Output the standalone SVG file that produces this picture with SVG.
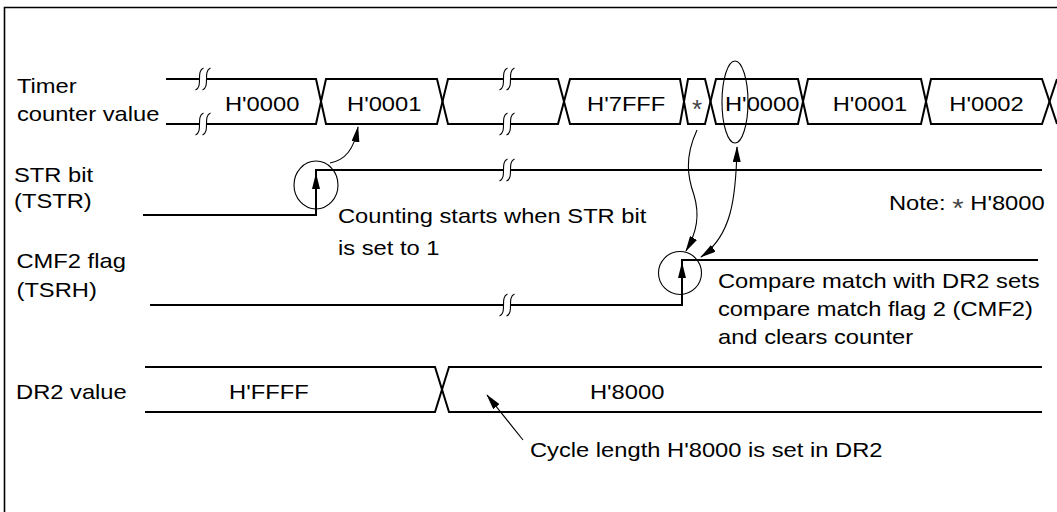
<svg xmlns="http://www.w3.org/2000/svg" xmlns:xlink="http://www.w3.org/1999/xlink" width="1057" height="512" viewBox="0 0 1057 512">
<style>
.t{font-family:"Liberation Sans",Arial,Helvetica,sans-serif;font-size:21px;fill:#000}
.sig{fill:none;stroke:#000;stroke-width:2}
.thin{fill:none;stroke:#000;stroke-width:1.1}
.frame{fill:none;stroke:#000;stroke-width:1.6}
.ast{font-family:"Liberation Sans",Arial,sans-serif;font-size:26px;fill:#444}
</style>
<defs>
<marker id="ah" markerWidth="16" markerHeight="8" refX="15" refY="4" orient="auto-start-reverse" markerUnits="userSpaceOnUse">
<path d="M0,0 L16,4 L0,8 z" fill="#000"/>
</marker>
<g id="brk">
<rect x="-3" y="-2.5" width="6" height="5" fill="#fff"/>
<path d="M0.5,-11 C-7.5,-8 0.5,8 -7.5,11" fill="none" stroke="#000" stroke-width="1.1"/>
<path d="M7.5,-11 C-0.5,-8 7.5,8 -0.5,11" fill="none" stroke="#000" stroke-width="1.1"/>
</g>
</defs>
<rect width="1057" height="512" fill="#fff"/>
<path class="frame" d="M4.5,512 L4.5,7.5 L1057,7.5"/>

<g id="timer-counter">
<path class="sig" d="M166,79 L316,79 L326,124 L437,124 L448,79 L558,79 L570,124 L680,124 L688,79 L705,79 L716,124 L798,124 L808,79 L921,79 L931,124 L1042,124 L1057,79"/>
<path class="sig" d="M166,124 L316,124 L326,79 L437,79 L448,124 L558,124 L570,79 L680,79 L688,124 L705,124 L716,79 L798,79 L808,124 L921,124 L931,79 L1042,79 L1057,124"/>
<use xlink:href="#brk" href="#brk" x="203" y="79"/>
<use xlink:href="#brk" href="#brk" x="203" y="124"/>
<use xlink:href="#brk" href="#brk" x="507" y="79"/>
<use xlink:href="#brk" href="#brk" x="507" y="124"/>
<ellipse class="thin" cx="735" cy="102" rx="13" ry="41"/>
<text class="ast" x="692" y="118">*</text>
<g transform="scale(1.13,1)">
<text class="t" x="15" y="93">Timer</text>
<text class="t" x="15" y="121">counter value</text>
<text class="t" x="199.1" y="111">H'0000</text>
<text class="t" x="307.1" y="111">H'0001</text>
<text class="t" x="519.5" y="111">H'7FFF</text>
<text class="t" x="641.6" y="111">H'0000</text>
<text class="t" x="736.9" y="111">H'0001</text>
<text class="t" x="840.1" y="111">H'0002</text>
</g>
</g>

<g id="str-bit">
<path class="sig" d="M143,215 L316,215 L316,170 L1042,170"/>
<use xlink:href="#brk" href="#brk" x="507" y="170"/>
<polygon points="316,173 312,189 320,189" fill="#000"/>
<ellipse class="thin" cx="316" cy="185" rx="22" ry="24"/>
<g transform="scale(1.13,1)">
<text class="t" x="12.4" y="182">STR bit</text>
<text class="t" x="12.4" y="208">(TSTR)</text>
<text class="t" x="299.1" y="223">Counting starts when STR bit</text>
<text class="t" x="299.1" y="255">is set to 1</text>
<text class="t" x="786.7" y="210">Note: <tspan class="ast" dy="7">*</tspan><tspan dy="-7"> H'8000</tspan></text>
</g>
</g>

<g id="cmf2-flag">
<path class="sig" d="M150,305 L682,305 L682,260 L1038,260"/>
<use xlink:href="#brk" href="#brk" x="507" y="305"/>
<polygon points="682,262 678,278 686,278" fill="#000"/>
<circle class="thin" cx="680" cy="273" r="21.5"/>
<g transform="scale(1.13,1)">
<text class="t" x="14.6" y="268">CMF2 flag</text>
<text class="t" x="14.6" y="297">(TSRH)</text>
<text class="t" x="635.4" y="288">Compare match with DR2 sets</text>
<text class="t" x="635.4" y="316">compare match flag 2 (CMF2)</text>
<text class="t" x="635.4" y="344">and clears counter</text>
</g>
</g>

<g id="dr2-value">
<path class="sig" d="M145,367 L435,367 L449,412 L1042,412"/>
<path class="sig" d="M145,412 L435,412 L449,367 L1042,367"/>
<g transform="scale(1.13,1)">
<text class="t" x="14.2" y="399">DR2 value</text>
<text class="t" x="202.7" y="399">H'FFFF</text>
<text class="t" x="522.1" y="399">H'8000</text>
<text class="t" x="469" y="457">Cycle length H'8000 is set in DR2</text>
</g>
</g>

<g id="connectors">
<path class="thin" d="M330,163 C345,160 354,150 358,127" marker-end="url(#ah)"/>
<path class="thin" d="M697,130 C684,158 688,178 694,195 C700,215 697,232 686,251" marker-end="url(#ah)"/>
<path class="thin" d="M737,147 C736,200 731,236 701,257" marker-start="url(#ah)" marker-end="url(#ah)"/>
<path class="thin" d="M523,440 L487,395" marker-end="url(#ah)"/>
</g>
</svg>
